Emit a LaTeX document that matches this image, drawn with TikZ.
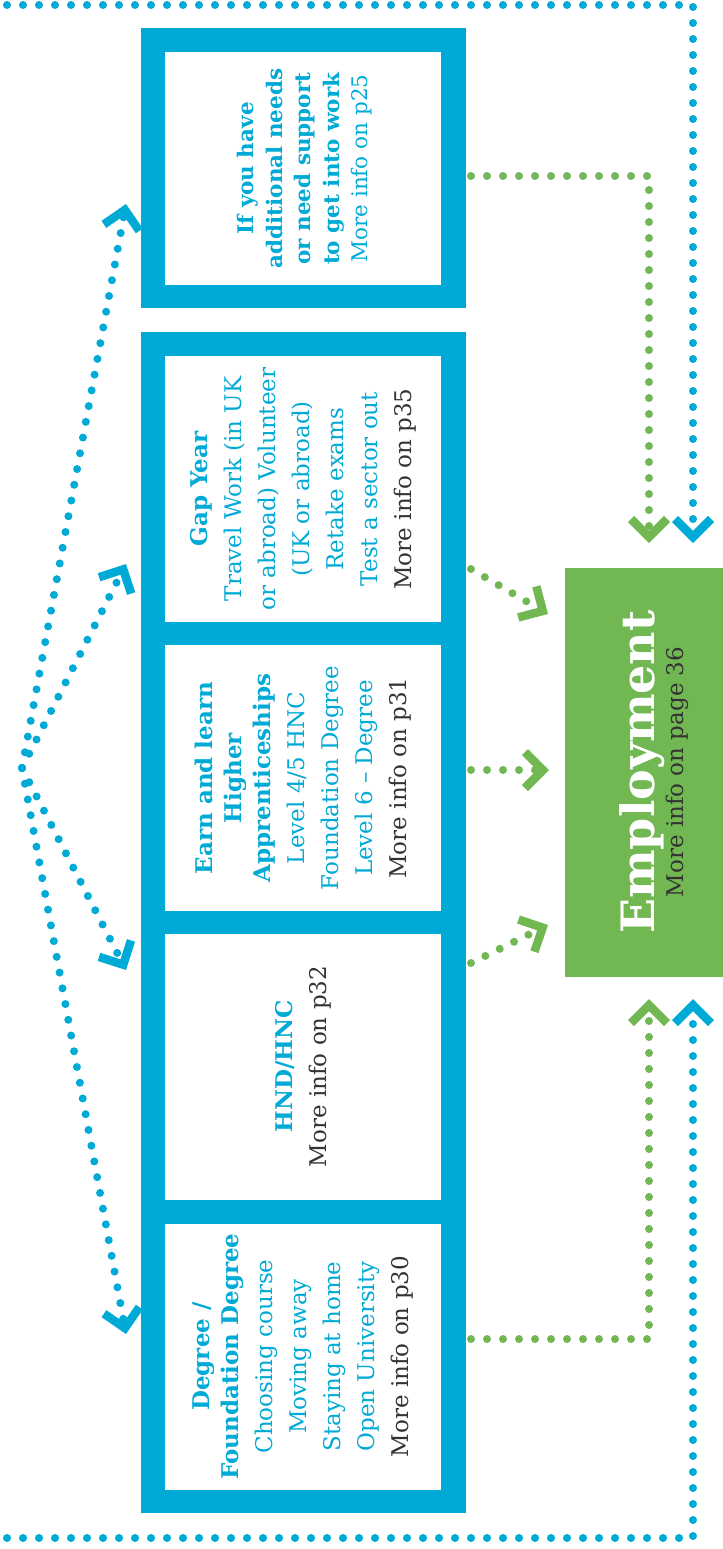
\documentclass[tikz,border=0pt]{standalone}
\usepackage{fontspec}
\setmainfont{DejaVu Serif}
\usetikzlibrary{arrows.meta}
\definecolor{cblue}{HTML}{00AAD6}
\definecolor{cgreen}{HTML}{72B852}
\definecolor{ctext}{HTML}{333333}
\begin{document}
\begin{tikzpicture}[x=0.5pt,y=-0.5pt,
  outerbox/.style={rectangle, fill=cblue, draw=none, inner sep=0pt},
  panel/.style={rectangle, fill=white, draw=none, inner sep=0pt, minimum width=138pt, minimum height=133pt},
  txt/.style={rotate=90, align=center, text=cblue, inner sep=0pt, font=\fontsize{11.5}{17}\selectfont},
  chev/.style={-{Straight Barb[length=9pt,width=18pt,line width=4.25pt]}},
  dotline/.style={line width=4pt, line cap=round, dash pattern=on 0pt off 8pt},
  bluedots/.style={dotline, draw=cblue},
  greendots/.style={dotline, draw=cgreen}
]
\useasboundingbox (0,0) rectangle (723,1549);

% boxes
\node[outerbox, minimum width=162.5pt, minimum height=140pt] (needs) at (303.5,168) {};
\node[panel, minimum height=116.5pt] (needsin) at (303,168.5) {};
\node[outerbox, minimum width=162.5pt, minimum height=590.5pt] (main) at (303.5,922.5) {};
\node[panel] (gap) at (303,489) {};
\node[panel] (earn) at (303,778) {};
\node[panel] (hnd) at (303,1066.5) {};
\node[panel] (deg) at (303,1356.5) {};
\node[rectangle, fill=cgreen, draw=none, inner sep=0pt, minimum width=79pt, minimum height=204.5pt] (emp) at (644,772.5) {};

% texts
\node[txt, font=\fontsize{10.75}{14.25}\selectfont] (needstext) at (305,168.5) {\textbf{If you have}\\\textbf{additional needs}\\\textbf{or need support}\\\textbf{to get into work}\\More info on p25};
\node[txt] (gaptext) at (gap) {\textbf{Gap Year}\\Travel Work (in UK\\or abroad) Volunteer\\(UK or abroad)\\Retake exams\\Test a sector out\\\textcolor{ctext}{More info on p35}};
\node[txt] (earntext) at (earn) {\textbf{Earn and learn}\\[-2.5pt]\textbf{Higher}\\[-2.5pt]\textbf{Apprenticeships}\\Level 4/5 HNC\\Foundation Degree\\Level 6 – Degree\\\textcolor{ctext}{More info on p31}};
\node[txt] (hndtext) at (hnd) {\textbf{HND/HNC}\\\textcolor{ctext}{More info on p32}};
\node[txt] (degtext) at (deg) {\textbf{Degree /}\\[-2.5pt]\textbf{Foundation Degree}\\Choosing course\\Moving away\\Staying at home\\Open University\\\textcolor{ctext}{More info on p30}};
\node[rotate=90, align=center, inner sep=0pt] (emptext) at (654,772) {{\fontsize{23}{23}\selectfont\bfseries\textcolor{white}{Employment}}\\{\fontsize{11.5}{19}\selectfont\textcolor{ctext}{More info on page 36}}};

% coordinates
\coordinate (J) at (22,768);
\coordinate (aneeds) at (126,204);
\coordinate (agap) at (126,564);
\coordinate (ahnd) at (126,970);
\coordinate (adeg) at (126,1334);
\coordinate (tl) at (7,5);
\coordinate (tr) at (693,5);
\coordinate (bl) at (7,1538);
\coordinate (br) at (693,1538);
\coordinate (abt) at (693,543);
\coordinate (abb) at (693,999);
\coordinate (gns) at (471,176);
\coordinate (gnc) at (649,176);
\coordinate (agt) at (649,543);
\coordinate (gds) at (471,1339);
\coordinate (gdc) at (649,1339);
\coordinate (agb) at (649,999);
\coordinate (ggs) at (471,569);
\coordinate (agg) at (548,614);
\coordinate (ges) at (471,770);
\coordinate (age) at (549,770);
\coordinate (ghs) at (471,963);
\coordinate (agh) at (548,925);

% blue loop
\draw[bluedots, chev] (tl) -- (tr) -- (abt);
\draw[bluedots, chev] (bl) -- (br) -- (abb);
% blue fan
\draw[bluedots, chev] (J) -- (aneeds);
\draw[bluedots, chev] (J) -- (agap);
\draw[bluedots, chev] (J) -- (ahnd);
\draw[bluedots, chev] (J) -- (adeg);
% green
\draw[greendots, chev] (gns) -- (gnc) -- (agt);
\draw[greendots, chev] (gds) -- (gdc) -- (agb);
\draw[greendots, chev] (ggs) -- (agg);
\draw[greendots, chev] (ges) -- (age);
\draw[greendots, chev] (ghs) -- (agh);
\end{tikzpicture}
\end{document}
